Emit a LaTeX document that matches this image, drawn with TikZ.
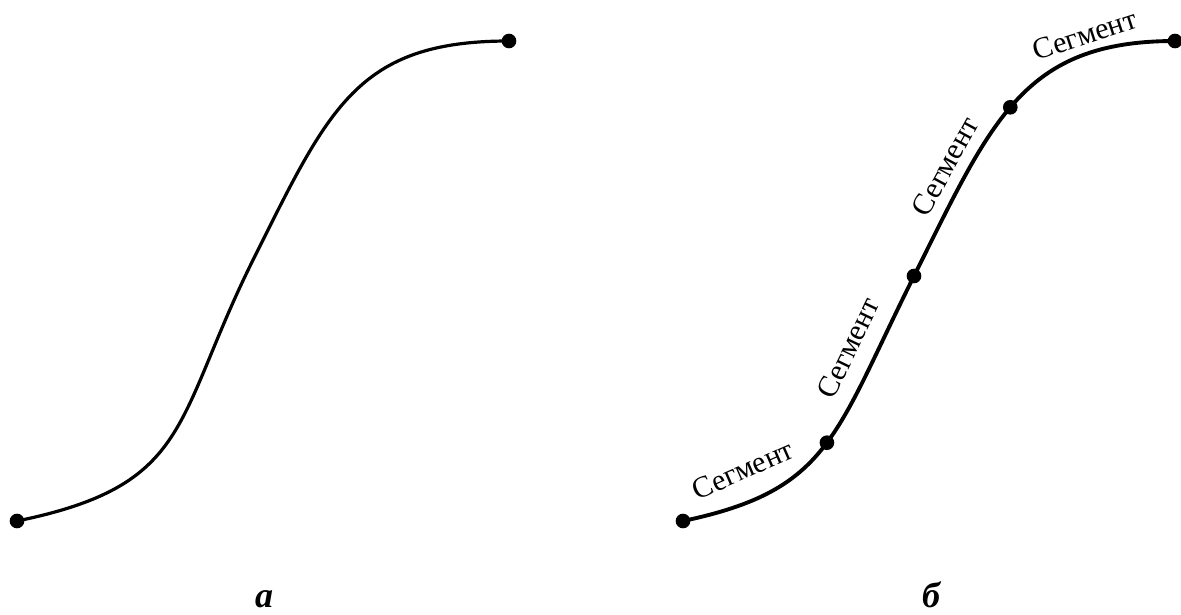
\documentclass[tikz,border=0pt]{standalone}
\usepackage{fontspec}
\setmainfont{Liberation Serif}

\tikzset{
  knot/.style={circle, fill=black, inner sep=0, minimum size=11pt},
  seglabel/.style={font=\fontsize{22.5}{26}\selectfont, sloped, anchor=south,
                   inner xsep=0pt},
  caption/.style={font=\fontsize{27}{32}\selectfont\bfseries\itshape, anchor=base},
}

\begin{document}
\begin{tikzpicture}[x=0.75pt, y=-0.75pt]
  \useasboundingbox (0,0) rectangle (1181,614);
  \def\shift{666}  % horizontal offset of the second curve

  % left curve (a)
  \coordinate (a0) at (17,521);
  \coordinate (a1) at (193,485);
  \coordinate (a2) at (173,421);
  \coordinate (am) at (253,260);
  \coordinate (a3) at (329,108);
  \coordinate (a4) at (357,41);
  \coordinate (a5) at (509,41);
  \draw[line width=2.4pt] (a0) .. controls (a1) and (a2) .. (am)
    .. controls (a3) and (a4) .. (a5);
  \node[knot] (ka0) at (a0) {};
  \node[knot] (ka5) at (a5) {};

  % right curve (b), split into segments
  \coordinate (b0) at (17+\shift,521);
  \coordinate (b1) at (164+\shift,490);
  \coordinate (b2) at (167.5+\shift,437);
  \coordinate (bm) at (248+\shift,276);
  \coordinate (b3) at (326+\shift,120);
  \coordinate (b4) at (357+\shift,41);
  \coordinate (b5) at (509+\shift,41);
  \draw[line width=2.9pt] (b0) .. controls (b1) and (b2) .. (bm)
    node[seglabel, pos=0.20, inner ysep=15pt] (s1) {Сегмент}
    node[seglabel, pos=0.80, inner ysep=12pt] (s2) {Сегмент}
    node[knot, pos=0.52] (kb1) {}
    .. controls (b3) and (b4) .. (b5)
    node[seglabel, pos=0.24, inner ysep=7.5pt] (s3) {Сегмент}
    node[seglabel, pos=0.78, inner ysep=5pt] (s4) {Сегмент}
    node[knot, pos=0.47] (kb3) {};
  \node[knot] (kb0) at (b0) {};
  \node[knot] (kb2) at (bm) {};
  \node[knot] (kb4) at (b5) {};

  % captions
  \node[caption] (capa) at (264,607) {а};
  \node[caption] (capb) at (931,607) {б};
\end{tikzpicture}
\end{document}
